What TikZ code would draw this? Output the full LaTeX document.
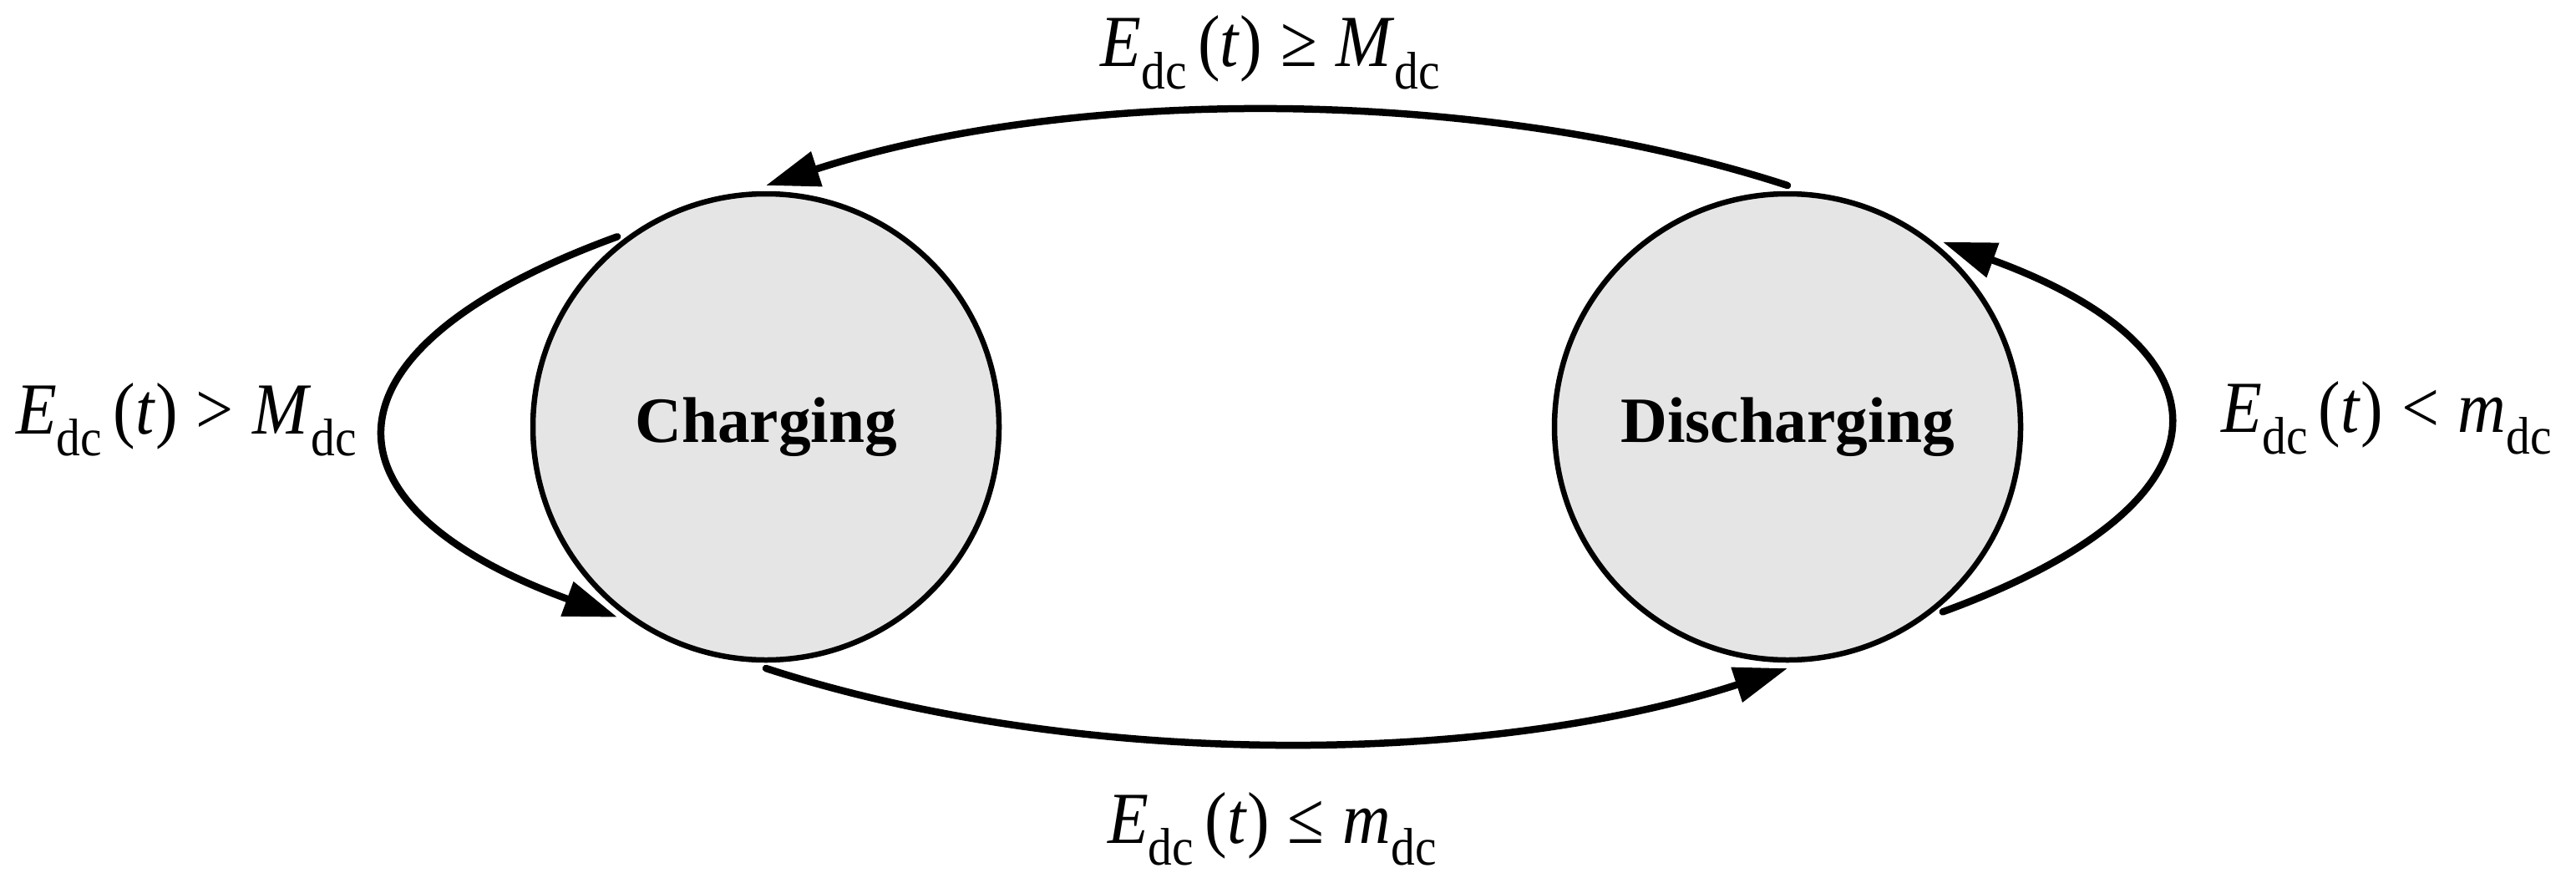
\documentclass[tikz,border=0pt]{standalone}
\usepackage{fontspec}
\setmainfont{Liberation Serif}
\usetikzlibrary{arrows.meta}

\newcommand{\lbl}{\fontsize{25}{30}\selectfont}
\newcommand{\dc}{\raisebox{-0.3em}{\fontsize{18}{20}\selectfont dc}}
\newcommand{\Edc}{\textit{E}\dc\,(\textit{t})}
\newcommand{\cnd}[1]{\scalebox{0.91}[1]{#1}}

\begin{document}
\begin{tikzpicture}[
  state/.style={circle, draw, line width=0.065cm, fill=gray!20, minimum size=5.58cm,
    inner sep=0pt, outer sep=0.1cm, font=\fontsize{22}{26}\selectfont\bfseries},
  trans/.style={line width=0.085cm, line cap=round, -{Triangle[length=0.64cm,width=0.42cm]}},
  cond/.style={anchor=base, inner sep=0pt, font=\lbl}]
  \useasboundingbox (0,0) rectangle (30.84,10.44);

  % the two states
  \node[state] (chg) at (9.17,5.33) {Charging};
  \node[state] (dis) at (21.40,5.33) {Discharging};

  % transitions
  \draw[trans] (dis.north) to[out=162, in=18, looseness=0.81] (chg.north);
  \draw[trans] (chg.south) to[out=-18, in=198, looseness=0.81] (dis.south);
  \draw[trans] (chg.128) to[out=200, in=160, looseness=2.2] (chg.232);
  \draw[trans] (dis.-50) to[out=20, in=-20, looseness=2.2] (dis.50);

  % conditions
  \node[cond] (cup) at (15.21,9.64) {\cnd{\Edc\;≥\;\textit{M}\dc}};
  \node[cond] (cdown) at (15.23,0.35) {\cnd{\Edc\;≤\;\textit{m}\dc}};
  \node[cond] (cleft) at (2.23,5.25) {\cnd{\Edc\;>\;\textit{M}\dc}};
  \node[cond] (cright) at (28.57,5.27) {\cnd{\Edc\;<\;\textit{m}\dc}};
\end{tikzpicture}
\end{document}
